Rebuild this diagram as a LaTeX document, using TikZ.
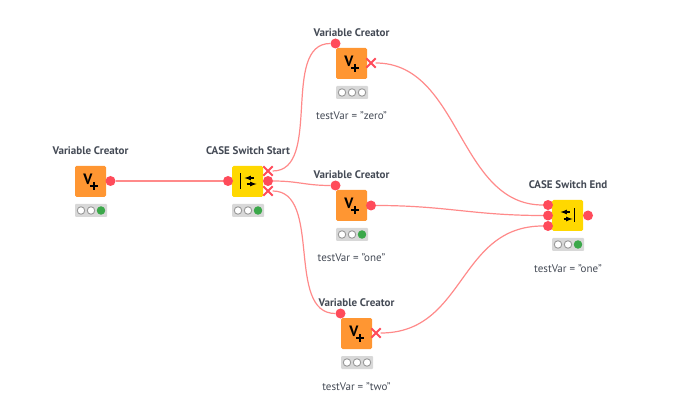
\documentclass[tikz,border=0pt]{standalone}
\usepackage{fontspec}
\setmainfont{PT Sans}
\usetikzlibrary{shapes.misc,calc}
\definecolor{wirecol}{HTML}{FF8A8A}
\definecolor{portcol}{HTML}{FF4B5A}
\definecolor{creatorcol}{HTML}{FF9632}
\definecolor{switchcol}{HTML}{FFD800}
\definecolor{lightbg}{HTML}{D8D8D8}
\definecolor{lampgreen}{HTML}{3BA84A}
\definecolor{textcol}{HTML}{444A55}
\tikzset{
	knode/.style={rounded corners=1.5pt, minimum size=31pt, inner sep=0pt},
	creator/.style={knode, fill=creatorcol},
	switchbox/.style={knode, fill=switchcol},
	port/.style={circle, fill=portcol, minimum size=10pt, inner sep=0pt},
	xport/.style={cross out, draw=portcol, line width=1.9pt, minimum size=7.5pt, inner sep=0pt},
	wire/.style={draw=wirecol, line width=1.2pt},
	title/.style={font=\bfseries\fontsize{11}{12}\selectfont, text=textcol},
	note/.style={font=\fontsize{11}{12}\selectfont, text=textcol},
	lightbox/.style={fill=lightbg, rounded corners=1pt, minimum width=32pt, minimum height=13pt, inner sep=0pt},
	lamp/.style={circle, draw=gray!80, fill=white, line width=.9pt, minimum size=7.5pt, inner sep=0pt},
	greenlamp/.style={lamp, draw=lampgreen, fill=lampgreen},
	glyph/.style={font=\bfseries\fontsize{15}{15}\selectfont, text=black, inner sep=0pt},
	plusbar/.style={line width=1.7pt, black},
	switcharrow/.style={-latex, line width=1.2pt, black}
}
\begin{document}
\begin{tikzpicture}[x=1pt, y=-1pt]
	\useasboundingbox (0,0) rectangle (690,411);

	% variable creators: name, position, last lamp
	\foreach \nm/\x/\y/\last in {first/90.5/181.5/greenlamp, zero/351.5/63.5/lamp, one/351.5/205.5/greenlamp, two/356.5/333.5/lamp}
	{
		\node[creator] (\nm) at (\x,\y) {};
		\node[glyph] (\nm V) at ($(\nm)+(-2.5,-2.5)$) {V};
		\draw[plusbar] ($(\nm)+(-0.5,4.5)$)--($(\nm)+(7.5,4.5)$);
		\draw[plusbar] ($(\nm)+(3.5,0.5)$)--($(\nm)+(3.5,8.5)$);
		\node[title] (\nm T) at ($(\nm)+(0,-31)$) {Variable Creator};
		\node[lightbox] (\nm L) at ($(\nm)+(0.5,29)$) {};
		\node[lamp] (\nm A) at ($(\nm L)+(-10,0)$) {};
		\node[lamp] (\nm B) at (\nm L) {};
		\node[\last] (\nm C) at ($(\nm L)+(10,0)$) {};
	}

	% the two switch nodes
	\foreach \nm/\x/\y/\txt in {start/247.5/181.5/CASE Switch Start, end/567.5/215.5/CASE Switch End}
	{
		\node[switchbox] (\nm) at (\x,\y) {};
		\node[title] (\nm T) at ($(\nm)+(0.5,-31)$) {\txt};
		\node[lightbox] (\nm L) at ($(\nm)+(0.5,29)$) {};
		\node[lamp] (\nm A) at ($(\nm L)+(-10,0)$) {};
		\node[lamp] (\nm B) at (\nm L) {};
		\node[greenlamp] (\nm C) at ($(\nm L)+(10,0)$) {};
	}
	\draw[line width=1.5pt] ($(start)+(-7,-8)$)--($(start)+(-7,8)$);
	\draw[switcharrow] ($(start)+(6,-3.5)$)--($(start)+(-3,-3.5)$);
	\draw[switcharrow] ($(start)+(-1,2.5)$)--($(start)+(9,2.5)$);
	\draw[line width=1.5pt] ($(end)+(7,-7)$)--($(end)+(7,7)$);
	\draw[switcharrow] ($(end)+(2,-3.5)$)--($(end)+(-7,-3.5)$);
	\draw[switcharrow] ($(end)+(-4,3.5)$)--($(end)+(5,3.5)$);

	% ports
	\node[port] (firstOut) at (110.5,181) {};
	\node[port] (startIn) at (228,181) {};
	\node[xport] (startA) at (268,171) {};
	\node[port] (startB) at (268,181) {};
	\node[xport] (startC) at (268,191) {};
	\node[port] (zeroIn) at (335.5,43.5) {};
	\node[xport] (zeroOut) at (371,63) {};
	\node[port] (oneIn) at (335.5,185.5) {};
	\node[port] (oneOut) at (371,205.5) {};
	\node[port] (twoIn) at (340.5,313.5) {};
	\node[xport] (twoOut) at (376,333) {};
	\node[port] (endA) at (548,205) {};
	\node[port] (endB) at (548,215.5) {};
	\node[port] (endC) at (548,226) {};
	\node[port] (endOut) at (588,215.5) {};

	% flow variable values
	\node[note] (zeroV) at (351.5,116) {testVar = "zero"};
	\node[note] (oneV) at (351.5,258) {testVar = "one"};
	\node[note] (twoV) at (356.5,387) {testVar = "two"};
	\node[note] (endV) at (568,269) {testVar = "one"};

	% wires
	\draw[wire] (firstOut.east)--(startIn.west);
	\draw[wire] (startA.east) .. controls +(50,0) and +(-50,0) .. (zeroIn.west);
	\draw[wire] (startB.east) .. controls +(25,0) and +(-25,0) .. (oneIn.west);
	\draw[wire] (startC.east) .. controls +(50,0) and +(-50,0) .. (twoIn.west);
	\draw[wire] (zeroOut.east) .. controls +(85,0) and +(-85,0) .. (endA.west);
	\draw[wire] (oneOut.east) .. controls +(70,0) and +(-70,0) .. (endB.west);
	\draw[wire] (twoOut.east) .. controls +(85,0) and +(-85,0) .. (endC.west);
\end{tikzpicture}
\end{document}
